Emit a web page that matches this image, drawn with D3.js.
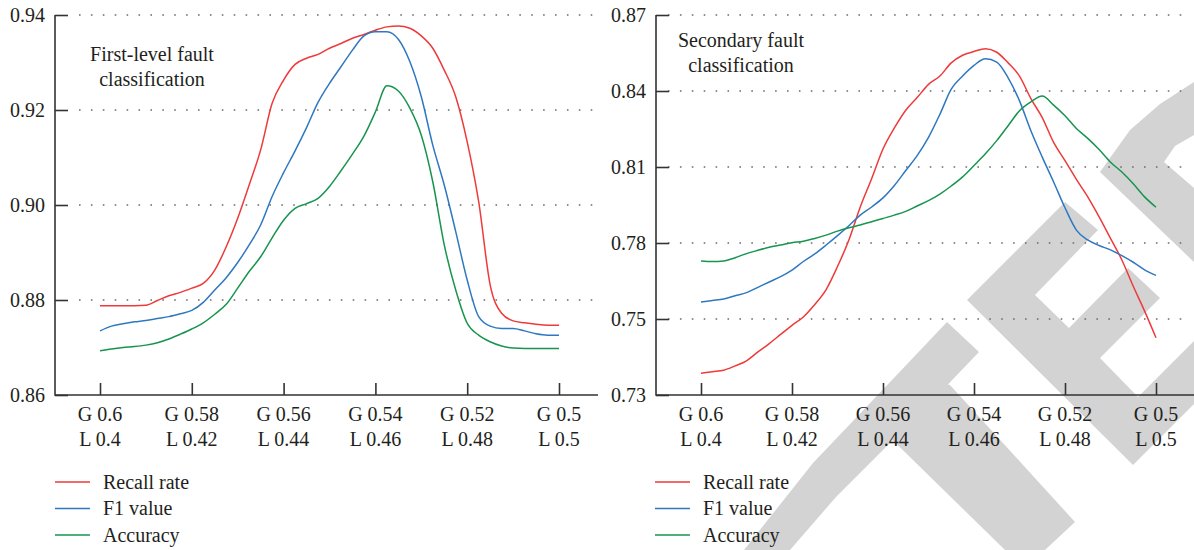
<!DOCTYPE html>
<html>
<head>
<meta charset="utf-8">
<script src="https://cdn.jsdelivr.net/npm/d3@7"></script>
<style>
  body { margin: 0; background: #fff; }
  text { font-family: "Liberation Serif", "Times New Roman", serif; fill: #231f20; }
</style>
</head>
<body>
<div id="chart"></div>
<script>
// x positions (G value) of the sampled points, shared by every series
var gSteps = [0.6, 0.5975, 0.595, 0.5925, 0.59, 0.5875, 0.585, 0.5825, 0.58, 0.5775,
              0.575, 0.5725, 0.57, 0.5675, 0.565, 0.5625, 0.56, 0.5575, 0.555, 0.5525,
              0.55, 0.5475, 0.545, 0.5425, 0.54, 0.5375, 0.535, 0.5325, 0.53, 0.5275,
              0.525, 0.5225, 0.52, 0.5175, 0.515, 0.5125, 0.51, 0.5075, 0.505, 0.5025, 0.5];

var gTicks = [0.6, 0.58, 0.56, 0.54, 0.52, 0.5];
var gLabels = ["G 0.6", "G 0.58", "G 0.56", "G 0.54", "G 0.52", "G 0.5"];
var lLabels = ["L 0.4", "L 0.42", "L 0.44", "L 0.46", "L 0.48", "L 0.5"];

var seriesNames = ["Recall rate", "F1 value", "Accuracy"];
var seriesColors = ["#ee3a3a", "#2f78c0", "#17944e"];

// first-level fault classification
var leftTicks = [0.86, 0.88, 0.90, 0.92, 0.94];
var leftTickLabels = ["0.86", "0.88", "0.90", "0.92", "0.94"];
var leftRecall = [0.8788, 0.8788, 0.8788, 0.8788, 0.8789, 0.8799, 0.8809, 0.8816, 0.8825, 0.8835,
                  0.8863, 0.8912, 0.8972, 0.9042, 0.9116, 0.9214, 0.9263, 0.9296, 0.9309, 0.9317,
                  0.9330, 0.9340, 0.9351, 0.9359, 0.9368, 0.9375, 0.9377, 0.9372, 0.9356, 0.9330,
                  0.9284, 0.9228, 0.9133, 0.9007, 0.8832, 0.8772, 0.8756, 0.8752, 0.8749, 0.8747, 0.8747];
var leftF1 = [0.8735, 0.8745, 0.8750, 0.8754, 0.8757, 0.8761, 0.8765, 0.8771, 0.8778, 0.8795,
              0.8821, 0.8847, 0.8879, 0.8916, 0.8958, 0.9018, 0.9068, 0.9114, 0.9163, 0.9216,
              0.9256, 0.9291, 0.9326, 0.9356, 0.9365, 0.9365, 0.9349, 0.9302, 0.9228, 0.9126,
              0.9042, 0.8944, 0.8842, 0.8765, 0.8745, 0.8740, 0.8740, 0.8735, 0.8729, 0.8726, 0.8726];
var leftAcc = [0.8693, 0.8697, 0.8700, 0.8702, 0.8705, 0.8710, 0.8718, 0.8728, 0.8739, 0.8752,
               0.8770, 0.8791, 0.8825, 0.8860, 0.8891, 0.8931, 0.8968, 0.8993, 0.9003, 0.9014,
               0.9039, 0.9072, 0.9107, 0.9145, 0.9196, 0.9251, 0.9240, 0.9204, 0.9147, 0.9049,
               0.8916, 0.8821, 0.8751, 0.8726, 0.8712, 0.8703, 0.8699, 0.8698, 0.8698, 0.8698, 0.8698];

// secondary fault classification (tick labels as printed on the axis)
var rightTicks = [0.72, 0.75, 0.78, 0.81, 0.84, 0.87];
var rightTickLabels = ["0.73", "0.75", "0.78", "0.81", "0.84", "0.87"];
var rightRecall = [0.7286, 0.7292, 0.7298, 0.7315, 0.7335, 0.7370, 0.7403, 0.7439, 0.7475, 0.7508,
                   0.7557, 0.7616, 0.7707, 0.7812, 0.7942, 0.8054, 0.8171, 0.8254, 0.8324, 0.8374,
                   0.8426, 0.8459, 0.8511, 0.8541, 0.8556, 0.8567, 0.8553, 0.8511, 0.8459, 0.8370,
                   0.8295, 0.8197, 0.8125, 0.8051, 0.7982, 0.7903, 0.7818, 0.7733, 0.7629, 0.7531, 0.7426];
var rightF1 = [0.7567, 0.7573, 0.7579, 0.7592, 0.7604, 0.7625, 0.7646, 0.7667, 0.7693, 0.7727,
               0.7757, 0.7792, 0.7829, 0.7868, 0.7910, 0.7942, 0.7978, 0.8027, 0.8086, 0.8145,
               0.8217, 0.8308, 0.8407, 0.8459, 0.8501, 0.8527, 0.8514, 0.8452, 0.8361, 0.8243,
               0.8139, 0.8041, 0.7939, 0.7851, 0.7812, 0.7790, 0.7773, 0.7750, 0.7724, 0.7694, 0.7672];
var rightAcc = [0.7729, 0.7727, 0.7729, 0.7742, 0.7758, 0.7771, 0.7783, 0.7792, 0.7801, 0.7807,
                0.7818, 0.7831, 0.7847, 0.7860, 0.7871, 0.7884, 0.7897, 0.7910, 0.7925, 0.7946,
                0.7967, 0.7993, 0.8025, 0.8061, 0.8106, 0.8152, 0.8204, 0.8263, 0.8322, 0.8357,
                0.8380, 0.8344, 0.8302, 0.8252, 0.8213, 0.8169, 0.8119, 0.8080, 0.8034, 0.7982, 0.7941];

var width = 1194, height = 550;

var svg = d3.select("#chart").append("svg")
    .attr("width", width)
    .attr("height", height);

// grey "retracted" stamp behind the right chart
var stamp = [
  [[744,550],[790,550],[836,497],[933,400],[979,352],[947,322],[892,380],[813,463]],
  [[905,372],[950,385],[1075,522],[1045,550],[1005,550],[870,418]],
  [[967,300],[1065,202],[1098,230],[1035,295],[1069,328],[1128,268],[1160,298],[1100,358],
   [1138,397],[1194,341],[1194,404],[1133,465]],
  [[1100,172],[1130,130],[1160,104],[1194,82],[1194,135],[1175,146],[1164,162],[1194,188],[1194,262]]
];
svg.append("g").selectAll("path")
  .data(stamp)
  .enter().append("path")
    .attr("d", function(d) { return "M" + d.join("L") + "Z"; })
    .attr("fill", "#d3d3d3");

var panels = [
  { title: ["First-level fault", "classification"], titleX: 152, titleY: 61,
    left: 55, right: 598, x0: 100, x1: 559, gridFrom: 79, gridTo: 598,
    domain: [0.86, 0.94], ticks: leftTicks, tickLabels: leftTickLabels,
    series: [leftRecall, leftF1, leftAcc], legendX: 55 },
  { title: ["Secondary fault", "classification"], titleX: 741, titleY: 47,
    left: 656, right: 1194, x0: 701, x1: 1156, gridFrom: 668, gridTo: 1190,
    domain: [0.72, 0.87], ticks: rightTicks, tickLabels: rightTickLabels,
    series: [rightRecall, rightF1, rightAcc], legendX: 655 }
];

var plotTop = 15, plotBottom = 395;

panels.forEach(function(p) {
  var x = d3.scaleLinear().domain([0.6, 0.5]).range([p.x0, p.x1]);
  var y = d3.scaleLinear().domain(p.domain).range([plotBottom, plotTop]);
  var g = svg.append("g");

  // dotted grid
  g.append("g").selectAll("line")
    .data(p.ticks.slice(1))
    .enter().append("line")
      .attr("x1", p.gridFrom).attr("x2", p.gridTo)
      .attr("y1", function(d) { return y(d); })
      .attr("y2", function(d) { return y(d); })
      .attr("stroke", "#6b6b6b")
      .attr("stroke-width", 1.6)
      .attr("stroke-dasharray", "1.6,10.3");

  // y axis
  var yAxis = d3.axisLeft(y)
      .tickValues(p.ticks)
      .tickFormat(function(d, i) { return p.tickLabels[i]; })
      .tickSize(-13)
      .tickPadding(10);
  var ya = g.append("g")
      .attr("transform", "translate(" + p.left + ",0)")
      .call(yAxis);
  ya.select(".domain").remove();
  ya.selectAll("line").attr("stroke", "#333").attr("stroke-width", 1.6);
  ya.selectAll("text")
      .style("font-family", "'Liberation Serif', serif")
      .style("font-size", "20px")
      .attr("fill", "#231f20");

  // x axis
  var xAxis = d3.axisBottom(x)
      .tickValues(gTicks)
      .tickFormat("")
      .tickSize(-12);
  var xa = g.append("g")
      .attr("transform", "translate(0," + plotBottom + ")")
      .call(xAxis);
  xa.select(".domain").remove();
  xa.selectAll("line").attr("stroke", "#333").attr("stroke-width", 1.6);

  g.append("path")
      .attr("d", "M" + p.left + "," + plotTop + "V" + plotBottom + "H" + p.right)
      .attr("fill", "none")
      .attr("stroke", "#333")
      .attr("stroke-width", 1.6);

  var labels = g.append("g").selectAll("g")
    .data(gTicks)
    .enter().append("g")
      .attr("transform", function(d) { return "translate(" + x(d) + "," + plotBottom + ")"; });
  labels.append("text")
      .attr("y", 26)
      .attr("text-anchor", "middle")
      .style("font-size", "20px")
      .text(function(d, i) { return gLabels[i]; });
  labels.append("text")
      .attr("y", 51)
      .attr("text-anchor", "middle")
      .style("font-size", "20px")
      .text(function(d, i) { return lLabels[i]; });

  // curves
  var line = d3.line()
      .x(function(d, i) { return x(gSteps[i]); })
      .y(function(d) { return y(d); })
      .curve(d3.curveMonotoneX);

  g.append("g").selectAll("path")
    .data(p.series)
    .enter().append("path")
      .attr("d", line)
      .attr("fill", "none")
      .attr("stroke", function(d, i) { return seriesColors[i]; })
      .attr("stroke-width", 1.5);

  // title
  g.append("text")
      .attr("x", p.titleX)
      .attr("y", p.titleY)
      .attr("text-anchor", "middle")
      .style("font-size", "20px")
    .selectAll("tspan")
    .data(p.title)
    .enter().append("tspan")
      .attr("x", p.titleX)
      .attr("dy", function(d, i) { return i ? 25 : 0; })
      .text(function(d) { return d; });

  // legend
  var leg = g.append("g").selectAll("g")
    .data(seriesNames)
    .enter().append("g")
      .attr("transform", function(d, i) { return "translate(" + p.legendX + "," + (482 + i * 26.5) + ")"; });
  leg.append("line")
      .attr("x1", 0).attr("x2", 35)
      .attr("stroke", function(d, i) { return seriesColors[i]; })
      .attr("stroke-width", 1.5);
  leg.append("text")
      .attr("x", 48)
      .attr("y", 6.5)
      .style("font-size", "20px")
      .text(function(d) { return d; });
});
</script>
</body>
</html>
